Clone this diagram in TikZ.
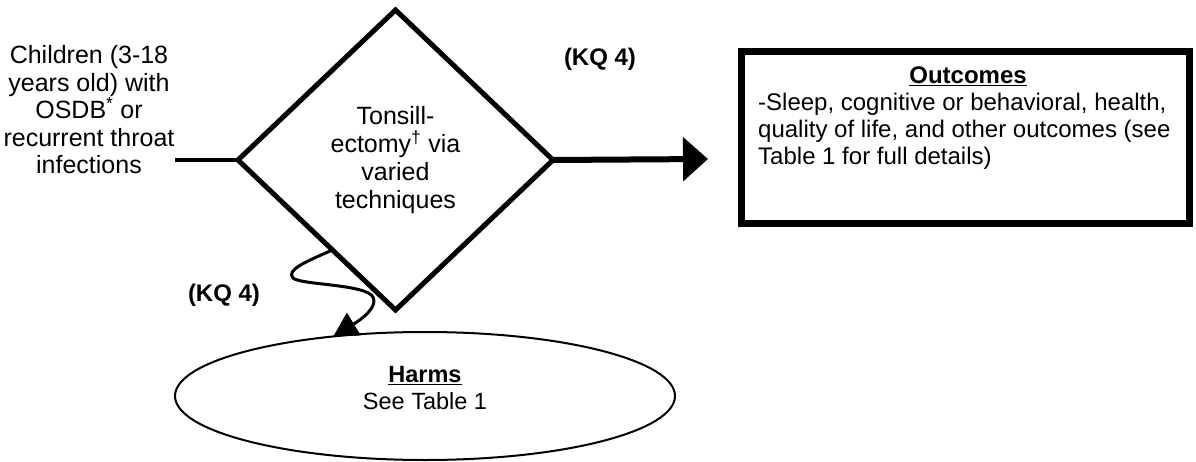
\documentclass[tikz,border=0pt]{standalone}
\usepackage{fontspec}
\setmainfont{Liberation Sans}
\usetikzlibrary{shapes.geometric,arrows.meta,calc}
\begin{document}
\begin{tikzpicture}[x=1pt,y=-1pt,
  txt/.style={font=\fontsize{25}{27.5}\selectfont, align=center, inner sep=0pt},
  kq/.style={font=\fontsize{24}{26}\selectfont\bfseries, inner sep=0pt},
  decision/.style={diamond, draw, line width=5pt, minimum width=315pt,
    minimum height=300pt, inner sep=0pt, outer sep=0pt, align=center,
    font=\fontsize{25}{28}\selectfont},
  outbox/.style={draw, line width=7pt, minimum width=448pt,
    minimum height=172pt, inner sep=0pt, outer sep=0pt},
  harmshape/.style={ellipse, draw, line width=2pt, minimum width=500pt,
    minimum height=128pt, inner sep=0pt, outer sep=0pt},
  link/.style={line width=4pt},
  mainarrow/.style={line width=6pt, -{Triangle[length=25pt,width=43pt]}},
  sidearrow/.style={line width=3pt, -{Triangle[length=24pt,width=26pt]}}
]
\useasboundingbox (0,0) rectangle (1196,462);

% population
\node[txt] (pop) at (89,110) {Children (3-18\\years old) with\\OSDB\textsuperscript{*} or\\recurrent throat\\infections};
\coordinate (popend) at (175,160);

% intervention
\node[decision] (dia) at (395.5,160) {Tonsill-\\ectomy\textsuperscript{\textdagger} via\\varied\\techniques};

% outcomes
\node[outbox] (out) at (965.5,137.5) {};
\node[kq] (outtitle) at (968,76) {\underline{Outcomes}};
\node[inner sep=0pt, align=left, anchor=west, font=\fontsize{24}{27}\selectfont] (outbody) at (758,131.5)
  {-Sleep, cognitive or behavioral, health,\\quality of life, and other outcomes (see\\Table 1 for full details)};

% harms
\node[harmshape] (harms) at (425,396) {};
\node[txt, font=\fontsize{23.5}{27}\selectfont] (harmstext) at (425,388) {\underline{\textbf{Harms}}\\See Table 1};

% key question labels
\node[kq] (kqa) at (600,59) {(KQ 4)};
\node[kq] (kqb) at (224,295) {(KQ 4)};

% connectors
\draw[link] (popend) -- (dia.west);
\coordinate (arrtip) at (708,159);
\draw[mainarrow] (dia.east) -- (arrtip);
\coordinate (wstart) at ($(dia.west)!0.6!(dia.south)$);
\draw[sidearrow] (wstart) .. controls (305,262) and (286,270) .. (293,278)
  .. controls (300,285) and (366,284) .. (373,297)
  .. controls (378,307) and (362,319) .. (harms.147);
\end{tikzpicture}
\end{document}
